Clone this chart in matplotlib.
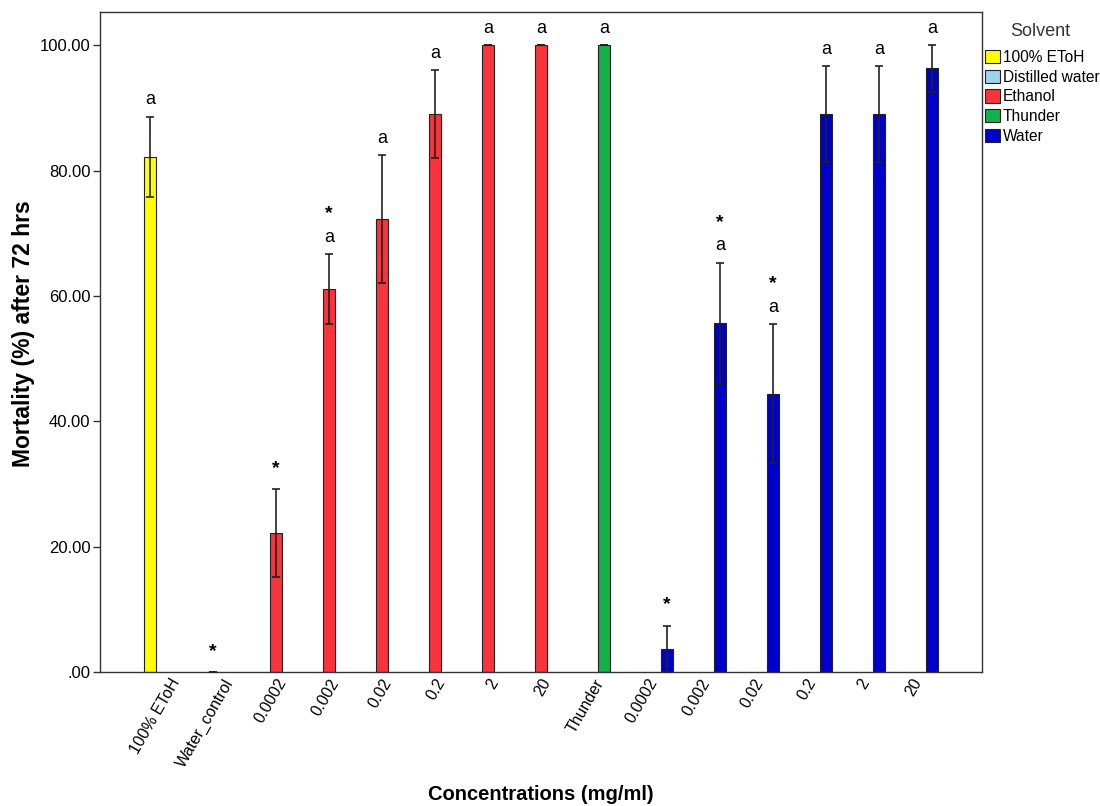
import matplotlib.pyplot as plt
from matplotlib.patches import Patch

plt.rcParams['font.family'] = ['Liberation Sans', 'DejaVu Sans']

# concentrations on the x axis, one bar each
concentrations = ['100% EToH', 'Water_control', '0.0002', '0.002', '0.02', '0.2', '2', '20',
                  'Thunder', '0.0002', '0.002', '0.02', '0.2', '2', '20']
solvent = ['100% EToH', 'Distilled water', 'Ethanol', 'Ethanol', 'Ethanol', 'Ethanol', 'Ethanol',
           'Ethanol', 'Thunder', 'Water', 'Water', 'Water', 'Water', 'Water', 'Water']
mortality = [82.2, 0.0, 22.2, 61.1, 72.2, 89.0, 100.0, 100.0,
             100.0, 3.7, 55.6, 44.4, 89.0, 89.0, 96.3]
std_err = [6.4, 0.0, 7.0, 5.6, 10.2, 7.0, 0.0, 0.0,
           0.0, 3.7, 9.7, 11.1, 7.7, 7.7, 3.7]
letters = ['a', '', '', 'a', 'a', 'a', 'a', 'a', 'a', '', 'a', 'a', 'a', 'a', 'a']
stars = [False, True, True, True, False, False, False, False,
         False, True, True, True, False, False, False]

solvent_names = ['100% EToH', 'Distilled water', 'Ethanol', 'Thunder', 'Water']
solvent_colors = ['#FFFF00', '#9ED2EE', '#F8333C', '#13B14A', '#0000CD']

fig = plt.figure(figsize=(11, 8.06), dpi=100)
ax = fig.add_axes([0.0909, 0.1663, 0.8018, 0.8189])

# clustered layout: each solvent has its own slot inside a concentration group
for i, (val, err, solv) in enumerate(zip(mortality, std_err, solvent)):
    k = solvent_names.index(solv)
    x = i + (k - 2) * 0.19
    ax.bar(x, val, width=0.22, color=solvent_colors[k], edgecolor='#222222', linewidth=0.8, zorder=2)
    ax.errorbar(x, val, yerr=err, fmt='none', ecolor='#222222', elinewidth=1.2,
                capsize=3, capthick=1.2, zorder=3)
    top = val + err
    if letters[i]:
        ax.annotate(letters[i], (x, top), xytext=(0, 12), textcoords='offset points',
                    ha='center', va='center', fontsize=13)
    if stars[i]:
        dy = 29 if letters[i] else 15
        ax.annotate('*', (x, top), xytext=(0, dy), textcoords='offset points',
                    ha='center', va='center', fontsize=14, fontweight='bold')

ax.set_xlim(-1.32, 15.32)
ax.set_ylim(0, 105.3)
ax.set_yticks([0, 20, 40, 60, 80, 100])
ax.set_yticklabels(['.00', '20.00', '40.00', '60.00', '80.00', '100.00'], fontsize=12)
ax.set_xticks(range(len(concentrations)))
ax.set_xticklabels(concentrations, rotation=60, ha='right', rotation_mode='anchor', fontsize=11.5)
ax.tick_params(axis='x', length=0, pad=3)
ax.tick_params(axis='y', length=5, width=1, color='#333333', pad=2)
for s in ax.spines.values():
    s.set_color('#333333')
    s.set_linewidth(1)

fig.text(0.021, 0.5859, 'Mortality (%) after 72 hrs', rotation=90, ha='center', va='center',
         fontsize=16.5, fontweight='bold')
fig.text(0.4918, 0.0137, 'Concentrations (mg/ml)', ha='center', va='center',
         fontsize=14.5, fontweight='bold')

# legend title set apart from the entries
fig.text(0.9455, 0.9615, 'Solvent', ha='center', va='center', fontsize=13, color='#333333')
handles = [Patch(facecolor=c, edgecolor='#222222', linewidth=0.8) for c in solvent_colors]
leg = fig.legend(handles, solvent_names, loc='upper left', bbox_to_anchor=(0.8925, 0.942),
                 frameon=False, fontsize=11.2,
                 handlelength=0.95, handleheight=0.95, handletextpad=0.2, labelspacing=0.3,
                 borderaxespad=0, borderpad=0.2)

fig.savefig('out.png', dpi=100)
